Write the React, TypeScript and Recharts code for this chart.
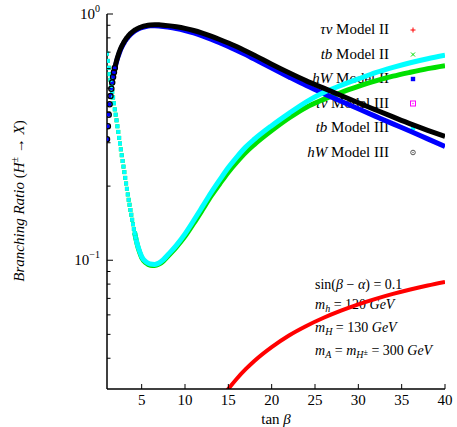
import React from "react";
import { LineChart, Line, XAxis, YAxis, Customized } from "recharts";

// tan(beta) grid shared by the tb and hW curves
const TAN_BETA = [
  1.0, 1.1, 1.2, 1.3, 1.4, 1.5, 1.6, 1.7, 1.8, 1.9,
  2.0, 2.1, 2.2, 2.3, 2.4, 2.5, 2.6, 2.7, 2.8, 2.9,
  3.0, 3.1, 3.2, 3.3, 3.4, 3.5, 3.6, 3.7, 3.8, 3.9,
  4.0, 4.1, 4.2, 4.3, 4.5, 4.75, 5, 5.5, 6, 6.5,
  7, 7.5, 8, 9, 10, 11, 12, 13, 14, 15,
  16, 17, 18, 20, 22, 24, 26, 28, 30, 32,
  34, 36, 38, 40,
];

const TB_III = [
  0.69, 0.645, 0.605, 0.57, 0.54, 0.51, 0.483, 0.458, 0.434, 0.41,
  0.39, 0.37, 0.35, 0.332, 0.314, 0.298, 0.282, 0.267, 0.253, 0.24,
  0.228, 0.216, 0.205, 0.195, 0.185, 0.176, 0.168, 0.16, 0.153, 0.146,
  0.14, 0.134, 0.129, 0.124, 0.116, 0.109, 0.1035, 0.0985, 0.0965, 0.0962,
  0.0975, 0.1005, 0.105, 0.115, 0.128, 0.145, 0.165, 0.188, 0.212, 0.238,
  0.263, 0.288, 0.31, 0.352, 0.395, 0.44, 0.48, 0.513, 0.545, 0.578,
  0.607, 0.634, 0.658, 0.68,
];

const TB_II = [
  0.69, 0.645, 0.605, 0.57, 0.54, 0.51, 0.483, 0.458, 0.434, 0.41,
  0.39, 0.37, 0.35, 0.332, 0.314, 0.298, 0.282, 0.267, 0.253, 0.24,
  0.228, 0.216, 0.205, 0.195, 0.185, 0.176, 0.168, 0.16, 0.153, 0.146,
  0.14, 0.134, 0.129, 0.124, 0.1155, 0.108, 0.1025, 0.0975, 0.0955, 0.0952,
  0.0965, 0.0993, 0.1035, 0.113, 0.125, 0.141, 0.16, 0.182, 0.204, 0.228,
  0.251, 0.274, 0.295, 0.336, 0.378, 0.418, 0.45, 0.48, 0.508, 0.535,
  0.559, 0.58, 0.6, 0.617,
];

const HW_III = [
  0.31, 0.35, 0.39, 0.43, 0.465, 0.497, 0.527, 0.555, 0.58, 0.603,
  0.625, 0.645, 0.664, 0.682, 0.698, 0.713, 0.727, 0.74, 0.752, 0.763,
  0.774, 0.784, 0.793, 0.802, 0.81, 0.818, 0.825, 0.832, 0.838, 0.844,
  0.85, 0.855, 0.86, 0.864, 0.872, 0.88, 0.887, 0.897, 0.903, 0.905,
  0.904, 0.901, 0.897, 0.887, 0.874, 0.857, 0.836, 0.813, 0.788, 0.762,
  0.736, 0.708, 0.68, 0.625, 0.577, 0.535, 0.5, 0.467, 0.436, 0.408,
  0.382, 0.358, 0.337, 0.318,
];

const HW_II = [
  0.31, 0.35, 0.39, 0.43, 0.465, 0.497, 0.527, 0.555, 0.58, 0.603,
  0.62, 0.64, 0.658, 0.675, 0.691, 0.706, 0.72, 0.733, 0.745, 0.756,
  0.767, 0.777, 0.786, 0.795, 0.803, 0.811, 0.818, 0.825, 0.831, 0.837,
  0.843, 0.848, 0.853, 0.857, 0.865, 0.873, 0.88, 0.89, 0.895, 0.896,
  0.894, 0.89, 0.885, 0.873, 0.857, 0.838, 0.815, 0.79, 0.764, 0.738,
  0.711, 0.684, 0.656, 0.603, 0.555, 0.512, 0.475, 0.442, 0.412, 0.384,
  0.358, 0.334, 0.311, 0.29,
];

const TAN_BETA_TAU = [14, 15, 16, 17, 18, 20, 22, 24, 26, 28, 30, 32, 34, 36, 38, 40];
const TAU_NU_II = [
  0.0268, 0.03, 0.0331, 0.0361, 0.039, 0.0444, 0.0495, 0.0541, 0.0584, 0.0624,
  0.0662, 0.0697, 0.073, 0.0761, 0.079, 0.0817,
];
// tau nu in Model III never enters the plotted range
const TAU_NU_III: number[] = [];

const X_TICKS = [5, 10, 15, 20, 25, 30, 35, 40];
const Y_TICKS = [0.04, 0.05, 0.06, 0.07, 0.08, 0.09, 0.1, 0.2, 0.3, 0.4, 0.5, 0.6, 0.7, 0.8, 0.9, 1];
const Y_EXP: Record<string, string> = { "0.1": "\u22121", "1": "0" };

const FONT = "'Liberation Serif', 'Times New Roman', serif";

type Series = {
  id: string;
  sym: string;
  model: string;
  color: string;
  t: number[];
  y: number[];
  width: number;
  dotUntil: number;
  marker: "plus" | "cross" | "square" | "boxdot" | "circle";
};

// drawing order follows the original plot
const SERIES: Series[] = [
  { id: "tau2", sym: "τν", model: "Model II", color: "#ff0000", t: TAN_BETA_TAU, y: TAU_NU_II, width: 4, dotUntil: 0, marker: "plus" },
  { id: "tb2", sym: "tb", model: "Model II", color: "#00e000", t: TAN_BETA, y: TB_II, width: 5, dotUntil: 4.3, marker: "cross" },
  { id: "hw2", sym: "hW", model: "Model II", color: "#0000ff", t: TAN_BETA, y: HW_II, width: 5, dotUntil: 1.9, marker: "square" },
  { id: "tau3", sym: "τν", model: "Model III", color: "#ff00ff", t: [], y: TAU_NU_III, width: 4, dotUntil: 0, marker: "boxdot" },
  { id: "tb3", sym: "tb", model: "Model III", color: "#00ffff", t: TAN_BETA, y: TB_III, width: 5, dotUntil: 4.3, marker: "square" },
  { id: "hw3", sym: "hW", model: "Model III", color: "#000000", t: TAN_BETA, y: HW_III, width: 5, dotUntil: 1.9, marker: "circle" },
];

function rows(s: Series, from: number, to: number) {
  return s.t.map((t, i) => ({ t, y: s.y[i] })).filter((r) => r.t >= from && r.t <= to);
}

function dotFor(s: Series) {
  return (p: any) => {
    const k = `${s.id}-${p.index}`;
    if (p.cx == null || p.cy == null) return <g key={k} />;
    if (s.marker === "circle") {
      return <circle key={k} cx={p.cx} cy={p.cy} r={2.6} fill="none" stroke="#000" strokeWidth={1.3} />;
    }
    return <rect key={k} x={p.cx - 2} y={p.cy - 2} width={4} height={4} fill={s.color} />;
  };
}

function Marker({ kind, color, x, y }: { kind: string; color: string; x: number; y: number }) {
  const sw = 1;
  if (kind === "plus")
    return <path d={`M${x - 2.5},${y}H${x + 2.5}M${x},${y - 2.5}V${y + 2.5}`} stroke={color} strokeWidth={sw} />;
  if (kind === "cross")
    return <path d={`M${x - 2},${y - 2}L${x + 2},${y + 2}M${x - 2},${y + 2}L${x + 2},${y - 2}`} stroke={color} strokeWidth={sw} />;
  if (kind === "square") return <rect x={x - 2.2} y={y - 2.2} width={4.4} height={4.4} fill={color} />;
  if (kind === "boxdot")
    return (
      <g>
        <rect x={x - 2.5} y={y - 2.5} width={5} height={5} fill="none" stroke={color} strokeWidth={sw} />
        <rect x={x - 0.6} y={y - 0.6} width={1.2} height={1.2} fill={color} />
      </g>
    );
  return (
    <g>
      <circle cx={x} cy={y} r={2.3} fill="none" stroke="#555" strokeWidth={sw} />
      <circle cx={x} cy={y} r={0.7} fill="#555" />
    </g>
  );
}

function LeftTick(props: any) {
  const { x, y, payload } = props;
  const exp = Y_EXP[String(payload.value)];
  const axisX = x + 7;
  return (
    <g>
      <line x1={axisX} x2={axisX + (exp ? 6 : 3.5)} y1={y} y2={y} stroke="#000" strokeWidth={1} />
      {exp && (
        <text x={x} y={y + 5} textAnchor="end" fontFamily={FONT} fontSize={15} fill="#000">
          10<tspan dy={-7} fontSize={10}>{exp}</tspan>
        </text>
      )}
    </g>
  );
}

function RightTick(props: any) {
  const { x, y, payload } = props;
  const major = Y_EXP[String(payload.value)] !== undefined;
  return <line x1={x} x2={x - (major ? 6 : 3.5)} y1={y} y2={y} stroke="#000" strokeWidth={1} />;
}

function BottomTick(props: any) {
  const { x, y, payload } = props;
  const axisY = y - 16;
  return (
    <g>
      <line x1={x} x2={x} y1={axisY} y2={axisY - 5} stroke="#000" strokeWidth={1} />
      <text x={x} y={y} textAnchor="middle" fontFamily={FONT} fontSize={15} fill="#000">
        {payload.value}
      </text>
    </g>
  );
}

function TopTick(props: any) {
  const { x, y } = props;
  return <line x1={x} x2={x} y1={y} y2={y + 5} stroke="#000" strokeWidth={1} />;
}

function Overlay() {
  return (
    <g fontFamily={FONT} fill="#000">
      <text transform="translate(24,201) rotate(-90)" textAnchor="middle" fontSize={15}>
        <tspan fontStyle="italic">Branching Ratio</tspan>
        <tspan> (</tspan>
        <tspan fontStyle="italic">H</tspan>
        <tspan dy={-6} fontSize={10}>±</tspan>
        <tspan dy={6}> → </tspan>
        <tspan fontStyle="italic">X</tspan>
        <tspan>)</tspan>
      </text>
      <text x={276} y={424} textAnchor="middle" fontSize={15}>
        tan <tspan fontStyle="italic">β</tspan>
      </text>

      {SERIES.map((s, i) => (
        <g key={s.id}>
          <text x={389} y={34 + i * 24.5} textAnchor="end" fontSize={15}>
            <tspan fontStyle="italic">{s.sym}</tspan> {s.model}
          </text>
          <Marker kind={s.marker} color={s.color} x={413} y={30 + i * 24.5} />
        </g>
      ))}

      <g fontSize={14}>
        <text x={315} y={289}>
          sin(<tspan fontStyle="italic">β</tspan> − <tspan fontStyle="italic">α</tspan>) = 0.1
        </text>
        <text x={315} y={309}>
          <tspan fontStyle="italic">m</tspan>
          <tspan fontStyle="italic" fontSize={10} dy={3}>h</tspan>
          <tspan dy={-3}> = 120 </tspan>
          <tspan fontStyle="italic">GeV</tspan>
        </text>
        <text x={315} y={332}>
          <tspan fontStyle="italic">m</tspan>
          <tspan fontStyle="italic" fontSize={10} dy={3}>H</tspan>
          <tspan dy={-3}> = 130 </tspan>
          <tspan fontStyle="italic">GeV</tspan>
        </text>
        <text x={315} y={355}>
          <tspan fontStyle="italic">m</tspan>
          <tspan fontStyle="italic" fontSize={10} dy={3}>A</tspan>
          <tspan dy={-3}> = </tspan>
          <tspan fontStyle="italic">m</tspan>
          <tspan fontStyle="italic" fontSize={10} dy={3}>H</tspan>
          <tspan fontSize={8} dy={-3}>±</tspan>
          <tspan> = 300 </tspan>
          <tspan fontStyle="italic">GeV</tspan>
        </text>
      </g>
    </g>
  );
}

export default function App() {
  return (
    <div style={{ position: "absolute", left: 0, top: 0, background: "#fff" }}>
      <LineChart width={457} height={427} margin={{ top: 14, right: 12, bottom: 0, left: 0 }}>
        <XAxis
          dataKey="t" type="number" domain={[1, 40]} ticks={X_TICKS} allowDataOverflow
          height={38} tickSize={0} tickMargin={16} tick={<BottomTick />}
          axisLine={{ stroke: "#000", strokeWidth: 1.5 }} tickLine={false}
        />
        <XAxis
          xAxisId="top" orientation="top" dataKey="t" type="number" domain={[1, 40]} ticks={X_TICKS}
          allowDataOverflow height={0} tickSize={0} tickMargin={0} tick={<TopTick />}
          axisLine={{ stroke: "#000", strokeWidth: 1.5 }} tickLine={false}
        />
        <YAxis
          type="number" scale="log" domain={[0.03, 1]} ticks={Y_TICKS} allowDataOverflow
          width={107} tickSize={0} tickMargin={7} tick={<LeftTick />} interval={0}
          axisLine={{ stroke: "#000", strokeWidth: 1.5 }} tickLine={false}
        />
        <YAxis
          yAxisId="right" orientation="right" type="number" scale="log" domain={[0.03, 1]} ticks={Y_TICKS}
          allowDataOverflow width={0} tickSize={0} tickMargin={0} tick={<RightTick />} interval={0}
          axisLine={{ stroke: "#000", strokeWidth: 1.5 }} tickLine={false}
        />
        <Customized component={Overlay} />
        {SERIES.flatMap((s) => {
          const out = [];
          if (s.dotUntil > 0) {
            out.push(
              <Line
                key={s.id + "-pts"} data={rows(s, 0, s.dotUntil)} dataKey="y" stroke="none"
                dot={dotFor(s)} activeDot={false} isAnimationActive={false} legendType="none"
              />
            );
          }
          out.push(
            <Line
              key={s.id} data={rows(s, s.dotUntil > 0 ? s.dotUntil - 0.1 : 0, 100)} dataKey="y"
              type="monotone" stroke={s.color} strokeWidth={s.width} dot={false} activeDot={false}
              isAnimationActive={false} legendType="none"
            />
          );
          return out;
        })}
      </LineChart>
    </div>
  );
}
